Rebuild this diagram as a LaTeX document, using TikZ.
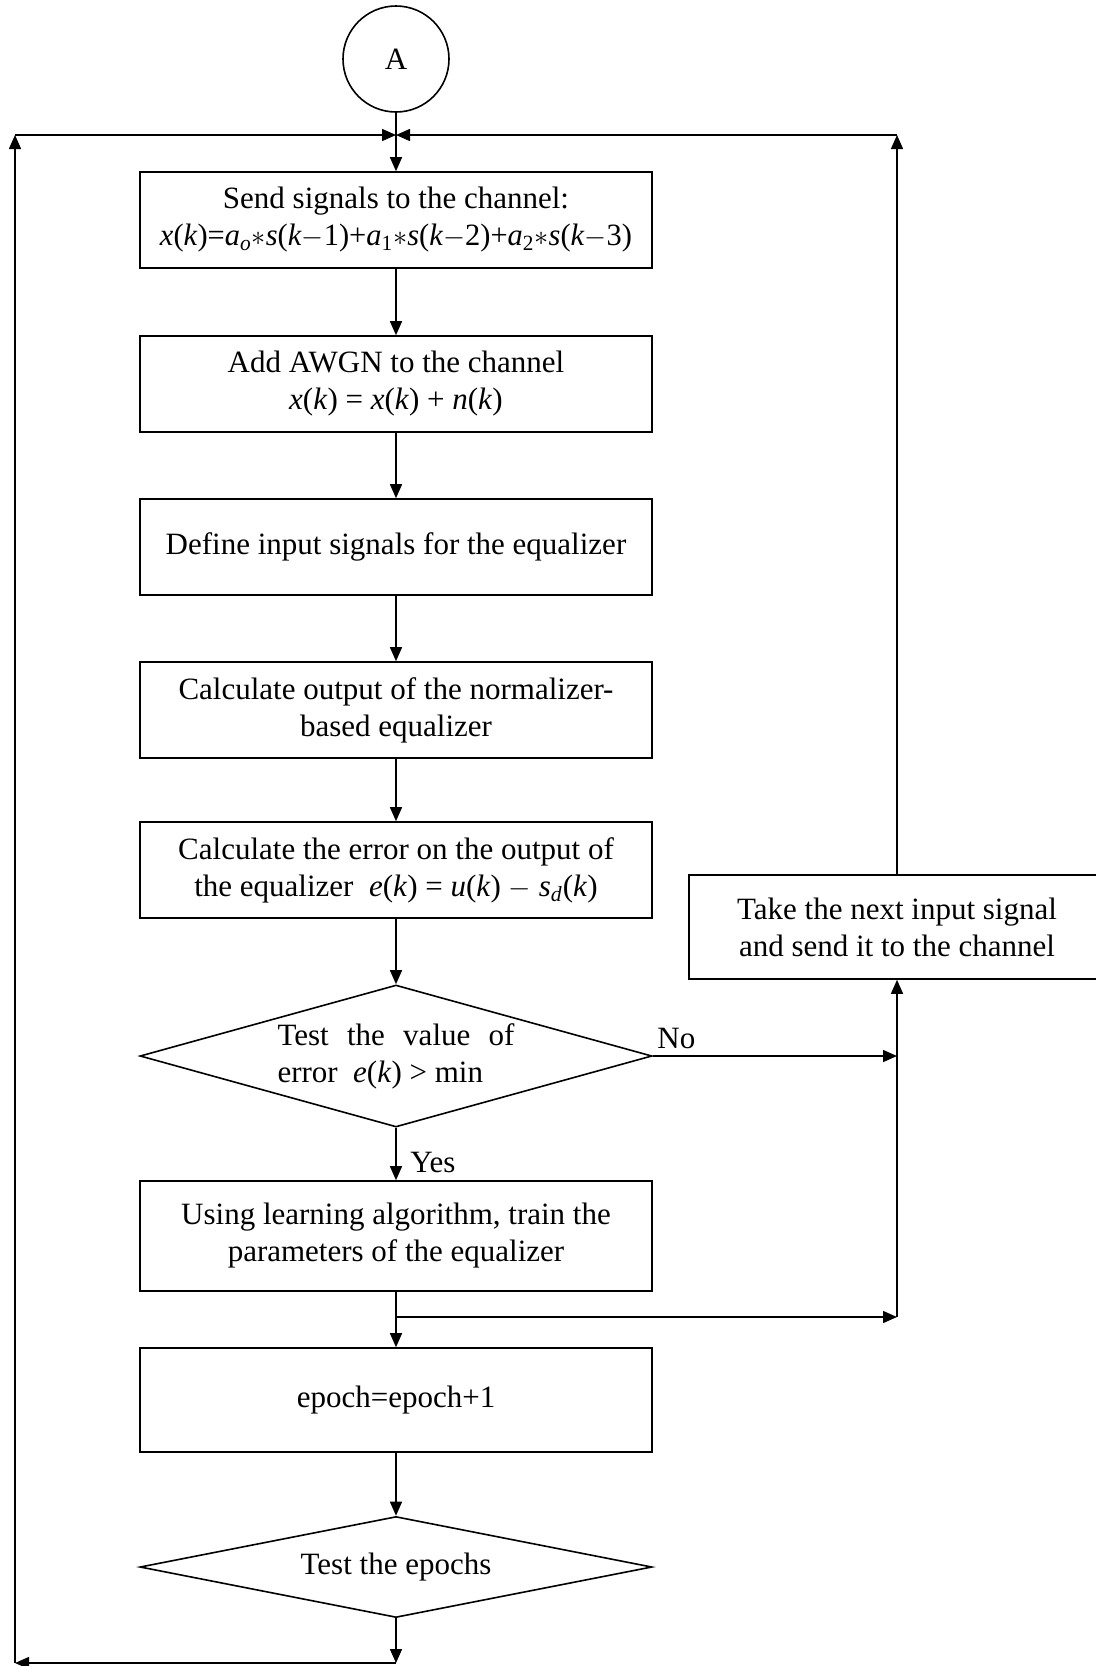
\documentclass[tikz,border=0pt]{standalone}
\usepackage{fontspec}
\setmainfont{Liberation Serif}
\usetikzlibrary{shapes.geometric,arrows.meta}
\newcommand{\mi}[1]{\textit{#1}}
\begin{document}
\begin{tikzpicture}[x=0.5pt,y=-0.5pt,
  every node/.style={font=\fontsize{15.5}{18.5}\selectfont},
  box/.style={draw,line width=0.8pt,minimum width=256pt,minimum height=48pt,inner sep=0pt,align=center},
  dia/.style={draw,diamond,line width=0.8pt,inner sep=0pt},
  arr/.style={-{Triangle[length=7pt,width=6pt]},line width=0.75pt},
  ln/.style={line width=0.75pt},
  lbl/.style={inner sep=0pt}]
\useasboundingbox (0,0) rectangle (1096,1666);

\node[circle,draw,line width=0.8pt,minimum size=53pt,inner sep=0pt] (A) at (396,59) {A};

\node[box] (b1) at (396,220)
  {Send signals to the channel:\\
   \resizebox{236pt}{\height}{\mi{x}(\mi{k})=\mi{a}\textsubscript{\mi{o}}$\ast$\mi{s}(\mi{k}$-$1)+\mi{a}\textsubscript{1}$\ast$\mi{s}(\mi{k}$-$2)+\mi{a}\textsubscript{2}$\ast$\mi{s}(\mi{k}$-$3)}};
\node[box] (b2) at (396,384)
  {Add AWGN to the channel\\ \mi{x}(\mi{k}) = \mi{x}(\mi{k}) + \mi{n}(\mi{k})};
\node[box] (b3) at (396,547) {Define input signals for the equalizer};
\node[box] (b4) at (396,710) {Calculate output of the normalizer-\\ based equalizer};
\node[box] (b5) at (396,870) {Calculate the error on the output of\\ the equalizer \ \mi{e}(\mi{k}) = \mi{u}(\mi{k}) $-$ \mi{s}\textsubscript{\mi{d}}(\mi{k})};
\node[dia,minimum width=256pt,minimum height=71pt] (d1) at (396,1056) {};
\node[lbl,align=left] (d1t) at (396,1056)
  {\makebox[118.5pt][s]{Test the value of}\\ error \ \mi{e}(\mi{k}) > min};
\node[box,minimum height=55pt] (b6) at (396,1236) {Using learning algorithm, train the\\ parameters of the equalizer};
\node[box,minimum height=52pt] (b7) at (396,1400) {epoch=epoch+1};
\node[dia,minimum width=256pt,minimum height=50.5pt] (d2) at (396,1567) {};
\node[lbl] (d2t) at (396,1567) {Test the epochs};

\node[box,minimum width=208pt,minimum height=52pt] (take) at (897,927)
  {Take the next input signal\\ and send it to the channel};

\coordinate (J) at (396,135);
\coordinate (TL) at (15,135);
\coordinate (TR) at (897,135);
\coordinate (BL) at (15,1663);
\coordinate (BM) at (396,1663);
\coordinate (BR) at (396,1317);
\coordinate (BRR) at (897,1317);
\coordinate (NoR) at (897,1056);

\draw[ln] (A.south) -- (J);
\draw[arr] (J) -- (b1.north);
\draw[arr] (TL) -- (J);
\draw[arr] (TR) -- (J);
\draw[arr] (BL) -- (TL);
\draw[arr] (take.north) -- (TR);
\draw[arr] (b1.south) -- (b2.north);
\draw[arr] (b2.south) -- (b3.north);
\draw[arr] (b3.south) -- (b4.north);
\draw[arr] (b4.south) -- (b5.north);
\draw[arr] (b5.south) -- (d1.north);
\draw[arr] (d1.east) -- (NoR);
\draw[arr] (d1.south) -- (b6.north);
\draw[ln] (b6.south) -- (BR);
\draw[arr] (BR) -- (b7.north);
\draw[arr] (BR) -- (BRR);
\draw[arr] (BRR) -- (take.south);
\draw[arr] (b7.south) -- (d2.north);
\draw[arr] (d2.south) -- (BM);
\draw[arr] (BM) -- (BL);

\node[lbl,anchor=base west] (no) at (657,1048) {No};
\node[lbl,anchor=base west] (yes) at (410,1172) {Yes};
\end{tikzpicture}
\end{document}
